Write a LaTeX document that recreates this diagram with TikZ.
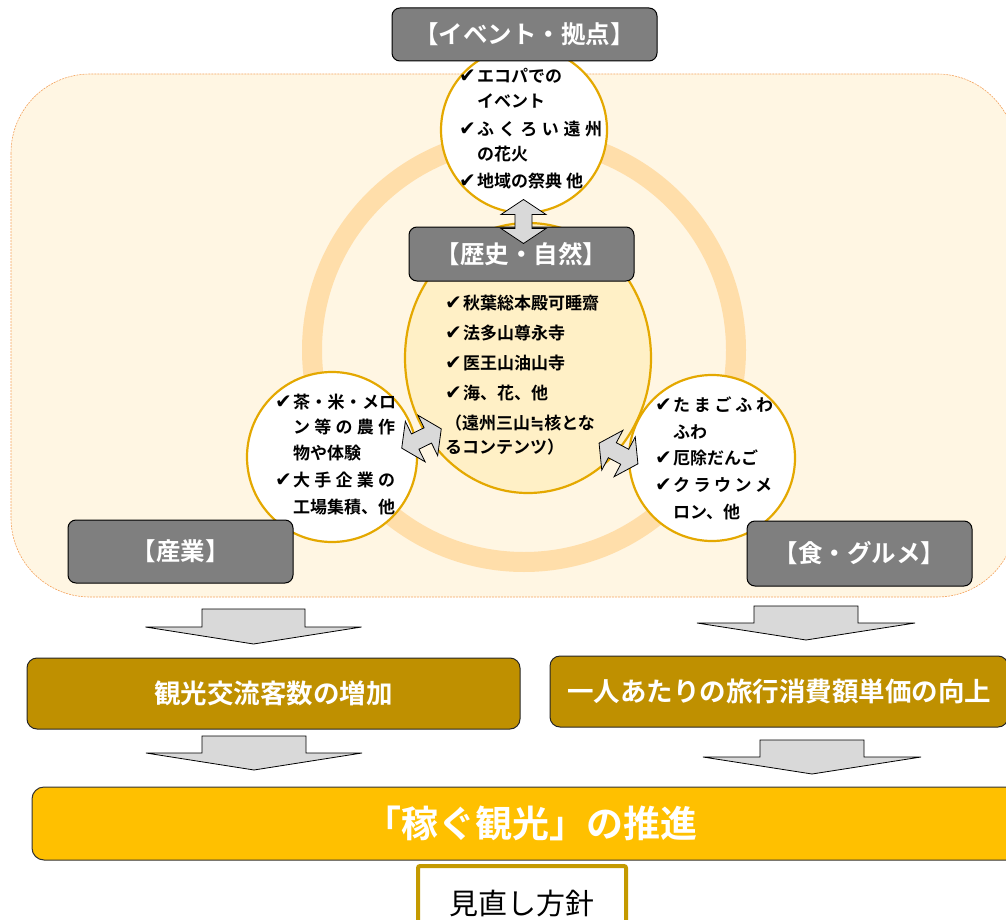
\documentclass[tikz,border=0pt]{standalone}
\usepackage{fontspec}
\setmainfont{Noto Sans CJK JP}[BoldFont={Noto Sans CJK JP Bold}]
\newfontfamily\symf{DejaVu Sans}[BoldFont={DejaVu Sans Bold}]
\definecolor{bgcream}{RGB}{255,246,227}
\definecolor{bgline}{RGB}{244,164,96}
\definecolor{ringc}{RGB}{255,222,170}
\definecolor{goldline}{RGB}{228,168,0}
\definecolor{centerfill}{RGB}{255,240,198}
\definecolor{grayhead}{RGB}{127,127,127}
\definecolor{arrowgray}{RGB}{217,217,217}
\definecolor{darkgold}{RGB}{191,144,0}
\definecolor{brightgold}{RGB}{255,192,0}
\definecolor{framegold}{RGB}{196,154,0}
\newcommand\ck{\makebox[18pt][l]{\symf\fontsize{20}{20}\selectfont ✔}}
\newcommand\approxeq{{\symf\bfseries ≒}}
\newcommand\dblarrow[3]{%
  \begin{scope}[shift={(#1,#2)},rotate=#3]
    \draw[blockarrow] (-22,0) -- (-7,-22.5) -- (-7,-8.5) -- (7,-8.5) -- (7,-22.5) -- (22,0)
      -- (7,22.5) -- (7,8.5) -- (-7,8.5) -- (-7,22.5) -- cycle;
  \end{scope}}
\newcommand\downblock[6]{% shaft-left, shaft-right, top, shoulder, half head width, tip y
  \draw[blockarrow] (#1,#3) -- (#2,#3) -- (#2,#4) -- ({(#1+#2)/2+#5},#4) -- ({(#1+#2)/2},#6)
    -- ({(#1+#2)/2-#5},#4) -- (#1,#4) -- cycle;}
\tikzset{
  headbox/.style={draw=black, line width=1pt, fill=grayhead, rounded corners=8pt,
    text=white, font=\bfseries\fontsize{24.5}{26}\selectfont, inner sep=0pt},
  circ/.style={draw=goldline, line width=2.2pt, fill=white},
  ctext/.style={font=\bfseries\fontsize{17}{20}\selectfont, inner sep=0pt, anchor=base west},
  resbox/.style={draw=black!85, line width=1pt, fill=darkgold, rounded corners=10pt,
    text=white, font=\bfseries\fontsize{26.5}{30}\selectfont, inner sep=0pt},
  blockarrow/.style={draw=black, line width=0.8pt, fill=arrowgray, line join=miter},
}
\begin{document}
\begin{tikzpicture}[x=1pt,y=-1pt]
\useasboundingbox (0,0) rectangle (1006,920);
\clip (0,0) rectangle (1006,920);
% background panel
\draw[draw=bgline, fill=bgcream, line width=0.6pt, dash pattern=on 2pt off 1pt, rounded corners=79pt]
  (11,74) rectangle (1016,597);
% ring
\draw[ringc, line width=20pt] (524,350) circle[radius=212];
% circles
\draw[circ] (524,130) circle[radius=83];
\draw[circ] (332,457) circle[radius=85];
\draw[circ] (712,458) circle[radius=83];
\draw[circ, fill=centerfill] (528,358) ellipse[x radius=123, y radius=135];
% top circle text
\node[ctext] (ta) at (459,83) {\ck エコパでの};
\node[ctext] (tb) at (477,108) {イベント};
\node[ctext] (tc) at (459,136) {\ck\makebox[125pt][s]{ふ\hfill く\hfill ろ\hfill い\hfill 遠\hfill 州}};
\node[ctext] (td) at (477,161) {の花火};
\node[ctext] (te) at (459,188) {\ck 地域の祭典 他};
% center text
\node[ctext] (ca) at (445,309) {\ck 秋葉総本殿可睡齋};
\node[ctext] (cb) at (445,339) {\ck 法多山尊永寺};
\node[ctext] (cc) at (445,369) {\ck 医王山油山寺};
\node[ctext] (cd) at (445,399) {\ck 海、花、他};
\node[ctext] (ce) at (445,429) {（遠州三山\approxeq 核とな};
\node[ctext] (cf) at (445,453) {るコンテンツ）};
% left circle text
\node[ctext] (la) at (275,408) {\ck\makebox[103pt][s]{茶\hfill ・\hfill 米\hfill ・\hfill メ\hfill ロ}};
\node[ctext] (lb) at (293,433) {\makebox[102pt][s]{ン\hfill 等\hfill の\hfill 農\hfill 作}};
\node[ctext] (lc) at (293,459) {物や体験};
\node[ctext] (ld) at (275,486) {\ck\makebox[102pt][s]{大\hfill 手\hfill 企\hfill 業\hfill の}};
\node[ctext] (le) at (293,513) {工場集積、他};
% right circle text
\node[ctext] (ra) at (655,411) {\ck\makebox[100pt][s]{た\hfill ま\hfill ご\hfill ふ\hfill わ}};
\node[ctext] (rb) at (673,438) {ふわ};
\node[ctext] (rc) at (655,464) {\ck 厄除だんご};
\node[ctext] (rd) at (655,491) {\ck\makebox[99pt][s]{ク\hfill ラ\hfill ウ\hfill ン\hfill メ}};
\node[ctext] (re) at (673,518) {ロン、他};
% heading boxes
\node[headbox, minimum width=265pt, minimum height=53pt] (ev) at (524.5,34.5) {【イベント・拠点】};
\node[headbox, minimum width=225pt, minimum height=54pt] (hi) at (521.5,254) {【歴史・自然】};
\node[headbox, minimum width=225pt, minimum height=63pt] (in) at (180.5,551.5) {【産業】};
\node[headbox, minimum width=225pt, minimum height=65pt] (fo) at (859.5,553.5) {【食・グルメ】};
% double arrows
\dblarrow{523.5}{221.5}{90}
\dblarrow{421.5}{438.5}{26}
\dblarrow{618.5}{453.5}{-28}
% result boxes
\node[resbox, minimum width=493pt, minimum height=71pt] (r1) at (273.5,693.5) {観光交流客数の増加};
\node[resbox, minimum width=458pt, minimum height=71pt] (r2) at (779,691.5) {一人あたりの旅行消費額単価の向上};
\node[draw=black!80, line width=1pt, fill=brightgold, rounded corners=12pt, minimum width=998pt,
  minimum height=73pt, text=white, font=\bfseries\fontsize{37}{40}\selectfont, inner sep=0pt]
  (goal) at (531,823.5) {「稼ぐ観光」の推進};
\draw[draw=framegold, line width=4pt, fill=white, rounded corners=2pt] (418,866) rectangle (626,950);
\node[font=\fontsize{29}{32}\selectfont, inner sep=0pt] (pol) at (522,903.5) {見直し方針};
% down arrows
\downblock{202}{305}{609}{627}{108}{644}
\downblock{202}{306}{736}{753}{108}{770}
\downblock{754}{858}{606}{623}{109}{640}
\downblock{760}{864}{740}{757}{109}{774}
\end{tikzpicture}
\end{document}
